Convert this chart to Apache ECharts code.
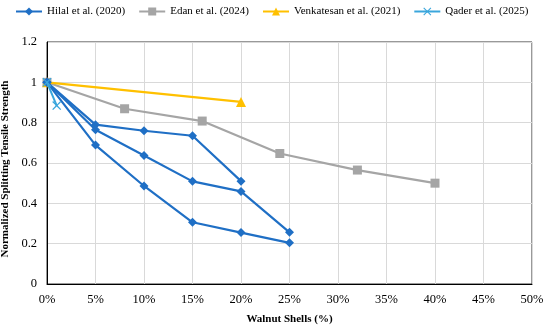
<!DOCTYPE html>
<html><head><meta charset="utf-8">
<script src="https://cdn.jsdelivr.net/npm/echarts@6/dist/echarts.min.js"></script>
<style>html,body{margin:0;padding:0;background:#fff}#c{width:550px;height:327px}</style>
</head><body><div id="c"></div>
<script>
// Data
const hilalX1 = [0, 5, 10, 15, 20];
const hilalY1 = [1, 0.79, 0.76, 0.735, 0.51];
const hilalX2 = [0, 5, 10, 15, 20, 25];
const hilalY2 = [1, 0.765, 0.637, 0.509, 0.459, 0.256];
const hilalX3 = [0, 5, 10, 15, 20, 25];
const hilalY3 = [1, 0.689, 0.486, 0.306, 0.255, 0.204];
const edanX = [0, 8, 16, 24, 32, 40];
const edanY = [1, 0.869, 0.808, 0.647, 0.565, 0.5];
const venkX = [0, 20];
const venkY = [1, 0.903];
const qaderX = [0, 1];
const qaderY = [1, 0.885];
const xTicks = [0, 5, 10, 15, 20, 25, 30, 35, 40, 45, 50];
const yTicks = [0, 0.2, 0.4, 0.6, 0.8, 1, 1.2];
const names = ['Hilal et al. (2020)', 'Edan et al. (2024)', 'Venkatesan et al. (2021)', 'Qader et al. (2025)'];

const zip = (xs, ys) => xs.map((x, i) => [x, ys[i]]);
const font = '"Liberation Serif","Times New Roman",serif';
const BLUE = '#1f6fc5', GRAY = '#a5a5a5', YEL = '#ffc000', CYAN = '#3aa6dc';
const xShape = 'path://M0,1L1,0L5,4L9,0L10,1L6,5L10,9L9,10L5,6L1,10L0,9L4,5Z';

function hilal(data) {
  return { name: names[0], type: 'line', data, symbol: 'diamond', symbolSize: 9,
    lineStyle: { color: BLUE, width: 2.2 }, itemStyle: { color: BLUE }, z: 4 };
}

const chart = echarts.init(document.getElementById('c'), null, { renderer: 'canvas' });
chart.setOption({
  animation: false,
  textStyle: { fontFamily: font },
  legend: {
    data: names, top: 1, left: 10, width: 540, itemWidth: 26, itemHeight: 10, itemGap: 13,
    textStyle: { fontFamily: font, fontSize: 11, color: '#000' }
  },
  grid: { left: 47, right: 18, top: 42, bottom: 43, show: true, borderColor: '#333', borderWidth: 1,
    containLabel: false, outerBoundsMode: 'none' },
  xAxis: {
    type: 'value', min: xTicks[0], max: xTicks[xTicks.length - 1], interval: 5,
    name: 'Walnut Shells (%)', nameLocation: 'middle', nameGap: 30,
    nameTextStyle: { fontFamily: font, fontSize: 11, fontWeight: 'bold', color: '#000' },
    axisLine: { show: true, lineStyle: { color: '#000', width: 1 } },
    axisTick: { show: false },
    axisLabel: { formatter: v => v + '%', fontFamily: font, fontSize: 12.5, color: '#000', margin: 9 },
    splitLine: { show: true, lineStyle: { color: '#d9d9d9', width: 1 } }
  },
  yAxis: {
    type: 'value', min: yTicks[0], max: yTicks[yTicks.length - 1], interval: 0.2,
    name: 'Normalized Splitting Tensile Strength', nameLocation: 'middle', nameGap: 29,
    nameTextStyle: { fontFamily: font, fontSize: 11, fontWeight: 'bold', color: '#000', padding: [0, 12, 0, 0] },
    axisLine: { show: true, lineStyle: { color: '#000', width: 1 } },
    axisTick: { show: false },
    axisLabel: { formatter: v => String(Math.round(v * 10) / 10), fontFamily: font, fontSize: 12.5, color: '#000', margin: 10 },
    splitLine: { show: true, lineStyle: { color: '#d9d9d9', width: 1 } }
  },
  series: [
    { name: names[1], type: 'line', data: zip(edanX, edanY), symbol: 'rect', symbolSize: 9,
      lineStyle: { color: GRAY, width: 2.2 }, itemStyle: { color: GRAY }, z: 2 },
    { name: names[2], type: 'line', data: zip(venkX, venkY), symbol: 'triangle', symbolSize: 10,
      lineStyle: { color: YEL, width: 2.2 }, itemStyle: { color: YEL }, z: 3 },
    hilal(zip(hilalX1, hilalY1)),
    hilal(zip(hilalX2, hilalY2)),
    hilal(zip(hilalX3, hilalY3)),
    { name: names[3], type: 'line', data: zip(qaderX, qaderY), symbol: xShape, symbolSize: 9,
      lineStyle: { color: CYAN, width: 2 }, itemStyle: { color: CYAN }, z: 5 }
  ]
});
</script></body></html>
